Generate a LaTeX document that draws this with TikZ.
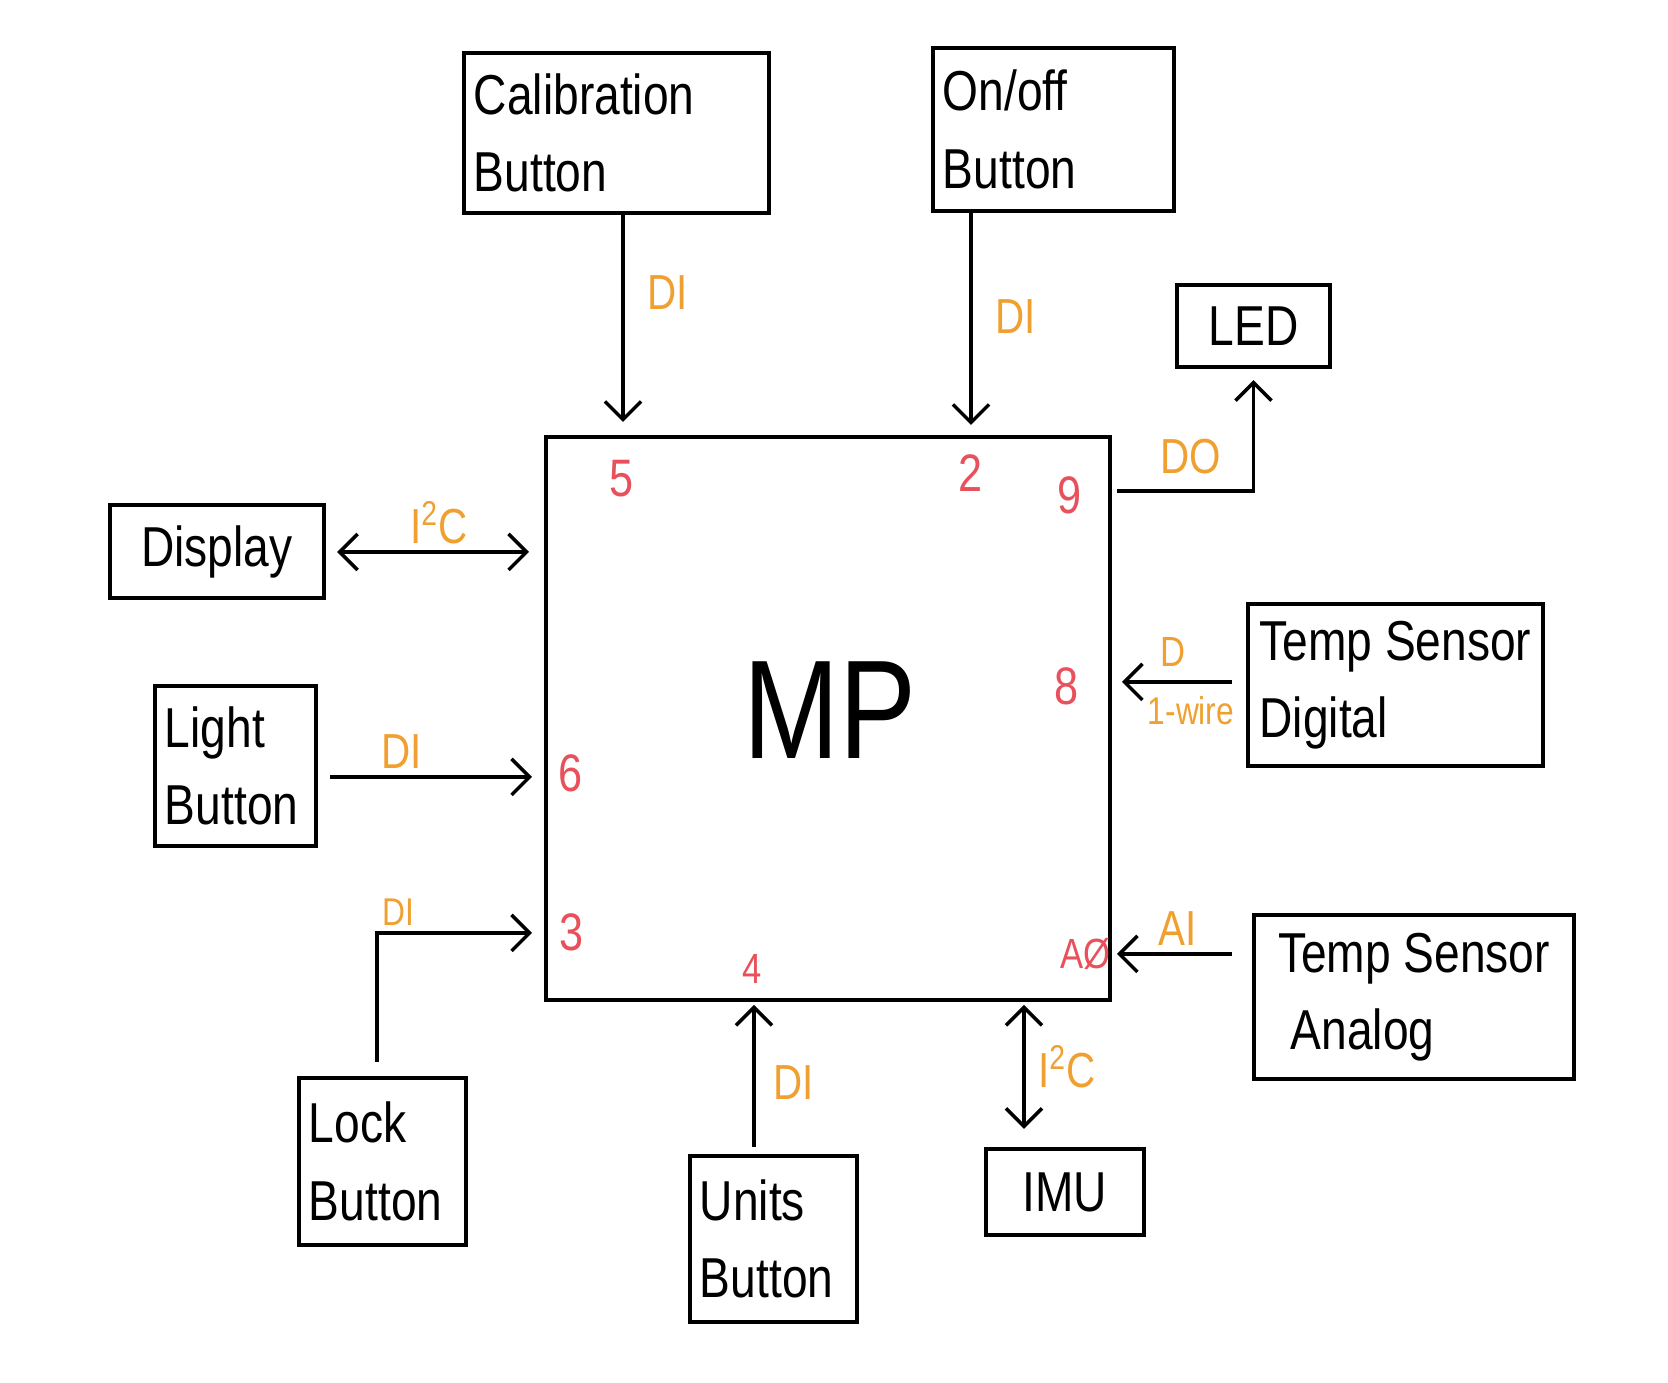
\documentclass[tikz,border=0pt]{standalone}
\usepackage{fontspec}
\usepackage{tikz}
\usetikzlibrary{arrows.meta,positioning}
\newfontfamily\hand[FakeStretch=0.82]{Liberation Sans}
\definecolor{sigorange}{HTML}{F0A030}
\definecolor{pinred}{HTML}{E8505B}

\begin{document}
\begin{tikzpicture}[>={Straight Barb[length=1.8mm,width=3.6mm]}, x=0.01cm, y=-0.01cm]
    \tikzset{device/.style= {draw, line width=1.2pt, rectangle, inner sep=1mm, align=left, font={\hand\fontsize{16}{22}\selectfont}} }
    \tikzset{wire/.style= {line width=1pt} }
    \tikzset{sig/.style= {text=sigorange, inner sep=0pt, font={\hand\fontsize{14}{14}\selectfont}} }
    \tikzset{pinno/.style= {text=pinred, inner sep=0pt, font={\hand\fontsize{15}{15}\selectfont}} }

    \useasboundingbox (0,0) rectangle (1668,1383);

    % micro processor
    \node[draw, line width=1.2pt, minimum width=5.64cm, minimum height=5.63cm] (mp) at (828,718.5) {};
    \node[font={\hand\fontsize{40}{40}\selectfont}] (mp-text) at (830,710) {MP};

    \node[device, minimum width=3.05cm, minimum height=1.6cm, text width=2.85cm] (calib) at (616.5,133) {Calibration\\Button};
    \node[device, minimum width=2.41cm, minimum height=1.63cm, text width=2.21cm] (onoff) at (1053.5,129.5) {On/off\\Button};
    \node[device, minimum width=1.53cm, minimum height=0.82cm, align=center] (led) at (1253.5,326) {LED};
    \node[device, minimum width=2.14cm, minimum height=0.93cm, align=center] (display) at (217,551.5) {Display};
    \node[device, minimum width=1.61cm, minimum height=1.6cm, text width=1.41cm] (light) at (235.5,766) {Light\\Button};
    \node[device, minimum width=2.95cm, minimum height=1.62cm] (tempd) at (1395.5,685) {Temp Sensor\\Digital};
    \node[device, minimum width=3.2cm, minimum height=1.64cm] (tempa) at (1414,997) {Temp Sensor\\\ Analog};
    \node[device, minimum width=1.67cm, minimum height=1.67cm, text width=1.47cm] (lock) at (382.5,1161.5) {Lock\\Button};
    \node[device, minimum width=1.67cm, minimum height=1.66cm, text width=1.47cm] (units) at (773.5,1239) {Units\\Button};
    \node[device, minimum width=1.58cm, minimum height=0.86cm, align=center] (imu) at (1065,1192) {IMU};

    % pin ends on the MP box
    \coordinate (in5) at (623,422);
    \coordinate (in2) at (971,425);
    \coordinate (out9) at (1117,491);
    \coordinate (io-disp) at (529,552);
    \coordinate (in6) at (532,777);
    \coordinate (in3) at (532,933);
    \coordinate (in4) at (754,1005);
    \coordinate (io-imu) at (1024,1005);
    \coordinate (in8) at (1122,682);
    \coordinate (in-a0) at (1117,954);

    \draw[wire, ->] (calib.south -| in5) -- (in5);
    \draw[wire, ->] (onoff.south -| in2) -- (in2);
    \draw[wire, ->, shorten >=1.1mm] (out9) -| (led.south);
    \draw[wire, <->, shorten <=1.1mm] (display.east |- io-disp) -- (io-disp);
    \draw[wire, ->, shorten <=1.2mm] (light.east |- in6) -- (in6);
    \draw[wire, ->, shorten <=1.4mm] ([xshift=-0.55mm]lock.north) |- (in3);
    \draw[wire, ->, shorten <=0.7mm] (units.north -| in4) -- (in4);
    \draw[wire, <->, shorten <=1.8mm] (imu.north -| io-imu) -- (io-imu);
    \draw[wire, ->, shorten <=1.4mm] (tempd.west |- in8) -- (in8);
    \draw[wire, ->, shorten <=2mm] (tempa.west |- in-a0) -- (in-a0);

    % signal types
    \node[sig] (di-calib) at (668,293) {DI};
    \node[sig] (di-onoff) at (1016,317) {DI};
    \node[sig] (do-led) at (1191,457) {DO};
    \node[sig] (i2c-disp) at (439,523) {I\textsuperscript{2}C};
    \node[sig] (di-light) at (402,752) {DI};
    \node[sig, font={\hand\fontsize{11}{11}\selectfont}] (di-lock) at (398,912) {DI};
    \node[sig] (di-units) at (794,1083) {DI};
    \node[sig] (i2c-imu) at (1067,1067) {I\textsuperscript{2}C};
    \node[sig, font={\hand\fontsize{12}{12}\selectfont}] (d-tempd) at (1173,652) {D};
    \node[sig, font={\hand\fontsize{11}{11}\selectfont}] (wire-tempd) at (1191,711) {1-wire};
    \node[sig] (ai-tempa) at (1178,929) {AI};

    % pin numbers
    \node[pinno] (pin5) at (622,479) {5};
    \node[pinno] (pin2) at (971,473) {2};
    \node[pinno] (pin9) at (1070,495) {9};
    \node[pinno] (pin8) at (1067,686) {8};
    \node[pinno] (pin6) at (571,773) {6};
    \node[pinno] (pin3) at (572,932) {3};
    \node[pinno, font={\hand\fontsize{12}{12}\selectfont}] (pin4) at (752,969) {4};
    \node[pinno, font={\hand\fontsize{12}{12}\selectfont}] (pin-a0) at (1085,954) {A\O};
\end{tikzpicture}
\end{document}
